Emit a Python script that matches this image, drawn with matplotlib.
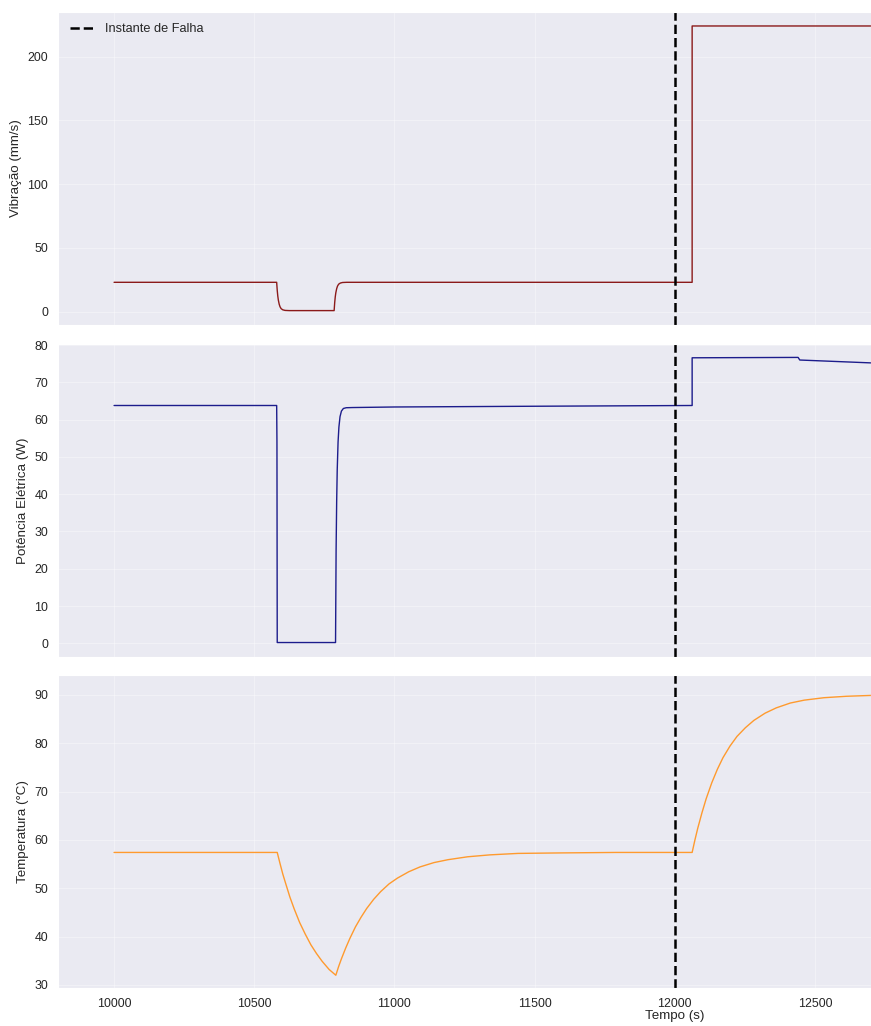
import matplotlib
matplotlib.use("Agg")
import matplotlib.pyplot as plt
import seaborn as sns

# Simulated time series around a bearing fault (time in seconds)
vib_time = [10000, 10580, 10582, 10584, 10586, 10589, 10592, 10596, 10602, 10610, 10625,
            10785, 10787, 10789, 10791, 10794, 10797, 10801, 10807, 10815, 10830,
            12062, 12062, 12710]
vib_vals = [23.0, 23.0, 16.7, 12.2, 9.0, 5.8, 3.8, 2.3, 1.4, 0.95, 0.8,
            0.8, 7.1, 11.6, 14.8, 18.0, 20.0, 21.5, 22.4, 22.85, 23.0,
            23.0, 224.1, 224.1]

pow_time = [10000, 10580, 10581, 10582, 10790, 10792, 10794, 10796, 10799, 10802,
            10806, 10811, 10818, 10828, 10850, 11000, 11500, 12062,
            12062, 12440, 12446, 12710]
pow_vals = [63.8, 63.8, 54.0, 0.2, 0.2, 25.0, 38.0, 46.5, 54.0, 58.0,
            60.8, 62.3, 63.0, 63.2, 63.25, 63.4, 63.6, 63.8,
            76.6, 76.7, 76.0, 75.2]

temp_time = [10000, 10582, 10592, 10602, 10612, 10627, 10642, 10662, 10682, 10702,
             10722, 10742, 10767, 10791,
             10801, 10811, 10826, 10841, 10861, 10881, 10901, 10926, 10951, 10981,
             11011, 11051, 11091, 11141, 11191, 11261, 11341, 11441, 11591, 11791,
             12062, 12072, 12082, 12097, 12112, 12132, 12152, 12172, 12197, 12222,
             12252, 12282, 12322, 12362, 12412, 12462, 12532, 12612, 12712]
temp_vals = [57.4, 57.4, 55.1, 52.9, 51.0, 48.2, 45.8, 42.9, 40.5, 38.3,
             36.5, 34.9, 33.2, 32.0,
             33.8, 35.4, 37.6, 39.6, 42.0, 44.0, 45.8, 47.7, 49.3, 50.9,
             52.1, 53.4, 54.4, 55.3, 55.9, 56.5, 56.9, 57.2, 57.3, 57.4,
             57.4, 60.0, 62.4, 65.6, 68.5, 71.8, 74.6, 77.0, 79.4, 81.4,
             83.2, 84.7, 86.2, 87.3, 88.3, 88.9, 89.4, 89.7, 89.9]

fault_time = 12000
x_ticks = [10000, 10500, 11000, 11500, 12000, 12500]

sns.set_style("darkgrid")
plt.rcParams["font.family"] = ["Liberation Sans", "DejaVu Sans"]

W, H = 871, 1026
fig = plt.figure(figsize=(W / 100, H / 100), dpi=100)


def frame(top, bottom):
    return [58 / W, 1 - bottom / H, (W - 58) / W, (bottom - top) / H]


ax1 = fig.add_axes(frame(11.7, 325.0))
ax2 = fig.add_axes(frame(344.0, 656.7), sharex=ax1)
ax3 = fig.add_axes(frame(675.0, 988.3), sharex=ax1)

ax1.plot(vib_time, vib_vals, color="#8b1a1a", lw=1.0)
ax2.plot(pow_time, pow_vals, color="#1c1c8c", lw=1.0)
ax3.plot(temp_time, temp_vals, color="#ff9a2e", lw=1.0)

for i, ax in enumerate((ax1, ax2, ax3)):
    ax.axvline(fault_time, color="black", ls="--", lw=1.8,
               label="Instante de Falha" if i == 0 else None)
    ax.grid(True, alpha=0.35)
    ax.tick_params(labelsize=8.9)

ax1.set_ylim(-10.5, 235.3)
ax1.set_yticks([0, 50, 100, 150, 200])
ax2.set_ylim(-3.6, 80.3)
ax2.set_yticks(range(0, 81, 10))
ax3.set_ylim(29.3, 94.1)
ax3.set_yticks(range(30, 91, 10))

ax1.set_xlim(9800, 12700)
ax3.set_xticks(x_ticks)
ax1.tick_params(labelbottom=False)
ax2.tick_params(labelbottom=False)

ax1.set_ylabel("Vibração (mm/s)", fontsize=9.6)
ax2.set_ylabel("Potência Elétrica (W)", fontsize=9.6)
ax3.set_ylabel("Temperatura (°C)", fontsize=9.6)
ax3.set_xlabel("Tempo (s)", fontsize=9.6)
ax3.xaxis.set_label_coords((fault_time - 9800) / (12700 - 9800), -0.068)

ax1.legend(loc="upper left", frameon=False, fontsize=9.2)

fig.savefig("out.png", dpi=100)
